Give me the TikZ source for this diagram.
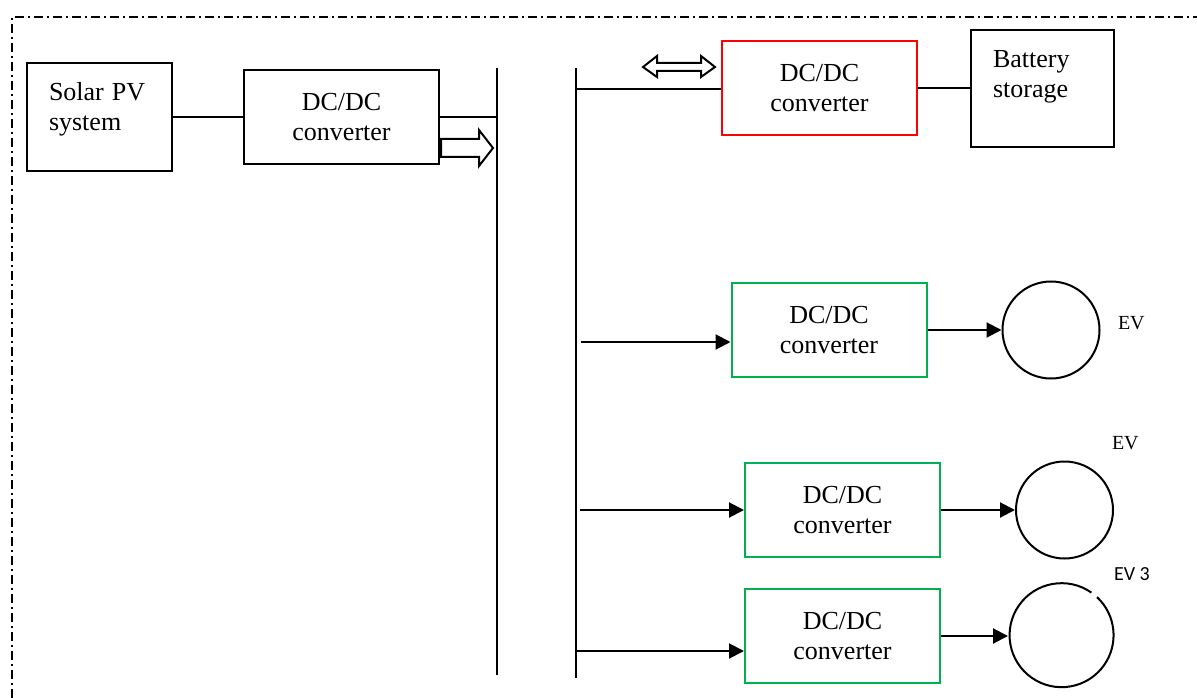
\documentclass[tikz,border=0pt]{standalone}
\usepackage{fontspec}
\setmainfont{Liberation Serif}
\newfontfamily\evfont{Carlito}
\usetikzlibrary{arrows.meta, positioning}
\definecolor{evgreen}{RGB}{0,176,80}
\tikzstyle{rect} = [draw, rectangle, minimum width=195pt, minimum height=94pt, align=center, inner sep=0pt]
\tikzstyle{txt} = [anchor=north west, align=left, inner sep=0pt]
\tikzstyle{ev} = [draw, circle, minimum size=97pt, inner sep=0pt]
\tikzstyle{evlabel} = [anchor=base west, inner sep=0pt, font=\fontsize{20}{24}\selectfont]
\tikzstyle{line} = [draw]
\tikzstyle{arrowline} = [draw, -{Triangle[length=15pt, width=15pt]}]
\tikzstyle{bus} = [draw, line width=2pt]
\tikzstyle{blockarrow} = [draw, fill=white]

\begin{document}
\begin{tikzpicture}[x=1pt, y=-1pt, line width=2pt, font=\fontsize{26}{30}\selectfont]
	\useasboundingbox (0,0) rectangle (1197,698);
	\draw [line width=1.6pt, dash pattern=on 9pt off 4pt on 2pt off 4pt] (12,698) -- (12,17) -- (1197,17);

	\node [rect, minimum width=145pt, minimum height=108pt] (solar) at (99.5,117) {};
	\node [txt] (solartxt) at (48,81) {Solar\hspace{8pt}PV\\system};
	\node [rect, right=70pt of solar] (dc1) {DC/DC\\converter};

	\node [rect, draw=red] (dcbat) at (819.5,88.5) {DC/DC\\converter};
	\node [rect, minimum width=143pt, minimum height=117pt, right=52pt of dcbat] (bat) {};
	\node [txt] (battxt) at (992,49) {Battery\\storage};

	\node [rect, draw=evgreen] (dc2) at (829,330) {DC/DC\\converter};
	\node [rect, draw=evgreen] (dc3) at (842.5,510) {DC/DC\\converter};
	\node [rect, draw=evgreen] (dc4) at (842.5,636) {DC/DC\\converter};

	\node [ev, right=74pt of dc2] (ev1) {};
	\node [ev, right=74pt of dc3] (ev2) {};
	\node [ev, draw=none, minimum size=104pt, right=67pt of dc4] (ev3) {};
	\draw (ev3.55) arc [start angle=55, end angle=407, radius=52pt];

	\node [evlabel] (ev1lbl) at (1117,329) {EV};
	\node [evlabel] (ev2lbl) at (1111,449) {EV};
	\node [evlabel] (ev3lbl) at (1113,580) {\evfont EV 3};

	\coordinate (bus1a) at (497,68);
	\coordinate (bus1b) at (497,675);
	\coordinate (bus2a) at (576,68);
	\coordinate (bus2b) at (576,678);
	\coordinate (tapbat) at (576,89);
	\coordinate (tap1) at (581,342);
	\coordinate (tap2) at (580,510);
	\coordinate (tap3) at (577,651);

	\path [bus] (bus1a) -- (bus1b);
	\path [bus] (bus2a) -- (bus2b);

	\path [line] (solar) -- (dc1);
	\path [line] (dc1.east) -- (dc1.east -| bus1a);
	\path [line] (tapbat) -- (tapbat -| dcbat.west);
	\path [line] (dcbat) -- (bat);
	\path [arrowline] (tap1) -- (tap1 -| dc2.west);
	\path [arrowline] (tap2) -- (tap2 -| dc3.west);
	\path [arrowline] (tap3) -- (tap3 -| dc4.west);
	\path [arrowline] (dc2) -- (ev1);
	\path [arrowline] (dc3) -- (ev2);
	\path [arrowline] (dc4) -- (ev3);

	\draw [blockarrow] (441,139) -- (479,139) -- (479,130) -- (493,148) -- (479,166) -- (479,157) -- (441,157) -- cycle;
	\draw [blockarrow] (643,67) -- (657,56) -- (657,63) -- (701,63) -- (701,56) -- (715,67) -- (701,77) -- (701,71) -- (657,71) -- (657,77) -- cycle;
\end{tikzpicture}
\end{document}
